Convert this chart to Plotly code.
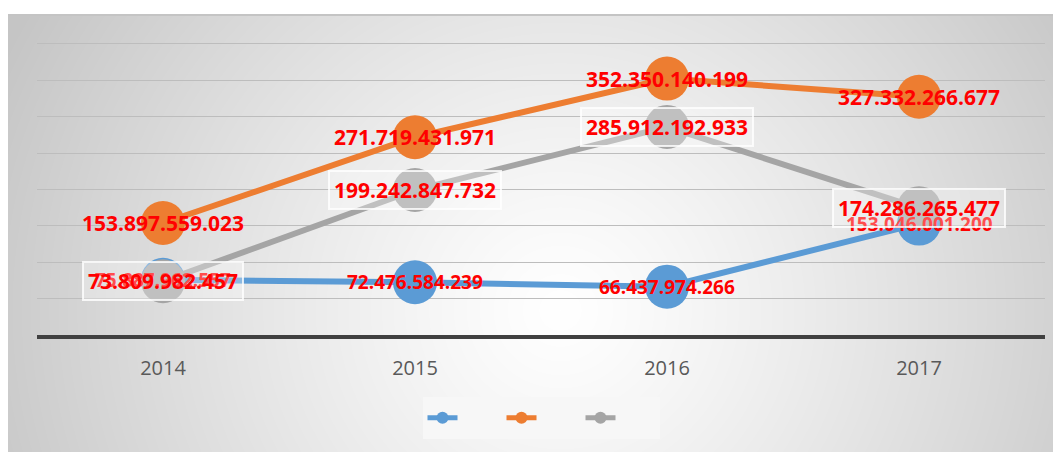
import base64
import struct
import zlib

import numpy as np
import plotly.graph_objects as go

years = ["2014", "2015", "2016", "2017"]
serie_1 = [75887962557, 72476584239, 66437974266, 153046001200]
serie_2 = [153897559023, 271719431971, 352350140199, 327332266677]
serie_3 = [73809982457, 199242847732, 285912192933, 174286265477]

BLUE = "#5B9BD5"
ORANGE = "#ED7D31"
GRAY = "#A5A5A5"

# the page body has an 8px margin, so the figure is shifted by that much
OFF = 8
W, H = 1061 - OFF, 452 - OFF
L, R, T, B = 37 - OFF, 16, 41 - OFF, 117
PW, PH = W - L - R, H - T - B


def dotted(v):
    return f"{v:,}".replace(",", ".")


def gradient_png(w, h, ox, oy):
    # radial grey gradient like the office chart-area fill
    xs = np.arange(w) + ox
    ys = np.arange(h) + oy
    gx, gy = np.meshgrid(xs, ys)
    r2 = ((gx - 560) / 620.0) ** 2 + ((gy - 310) / 600.0) ** 2
    val = 255 - 58 * np.minimum(1.0, r2) ** 0.6
    img = np.clip(val, 0, 255).astype(np.uint8)
    img[0:2, :] = 196
    raw = b"".join(b"\x00" + row.tobytes() for row in img)

    def chunk(tag, data):
        c = struct.pack(">I", len(data)) + tag + data
        return c + struct.pack(">I", zlib.crc32(tag + data) & 0xFFFFFFFF)

    png = b"\x89PNG\r\n\x1a\n"
    png += chunk(b"IHDR", struct.pack(">IIBBBBB", w, h, 8, 0, 0, 0, 0))
    png += chunk(b"IDAT", zlib.compress(raw, 9))
    png += chunk(b"IEND", b"")
    return "data:image/png;base64," + base64.b64encode(png).decode()


# chart box in screen pixels: from (6, 14) to the window edge
bx0, by0 = 6, 14
bg = gradient_png(1061 - bx0, 452 - by0, bx0, by0)

fig = go.Figure()
for vals, col in [(serie_1, BLUE), (serie_2, ORANGE), (serie_3, GRAY)]:
    fig.add_trace(go.Scatter(
        x=years, y=vals, mode="lines+markers", name="",
        line=dict(color=col, width=6),
        marker=dict(color=col, size=44, line=dict(width=0)),
        hoverinfo="skip",
    ))

lab_font = "Open Sans"
# category names look numeric, so annotations use the category index
for i, v in enumerate(serie_1):
    fig.add_annotation(x=i, y=v, xref="x", yref="y", text=dotted(v), showarrow=False,
                       font=dict(family=lab_font, size=19, color="#FF0000", weight="bold"))
for i, v in enumerate(serie_2):
    fig.add_annotation(x=i, y=v, xref="x", yref="y", text=dotted(v), showarrow=False,
                       font=dict(family=lab_font, size=21, color="#FF0000", weight="bold"))
for i, v in enumerate(serie_3):
    fig.add_annotation(x=i, y=v, xref="x", yref="y", text=dotted(v), showarrow=False,
                       font=dict(family=lab_font, size=21, color="#FF0000", weight="bold"),
                       bgcolor="rgba(255,255,255,0.3)", bordercolor="rgba(255,255,255,0.8)",
                       borderwidth=2, borderpad=4)

fig.add_layout_image(
    source=bg, xref="paper", yref="paper",
    x=(bx0 - OFF - L) / PW, y=(H - B - (by0 - OFF)) / PH,
    sizex=(1061 - bx0) / PW, sizey=(452 - by0) / PH,
    xanchor="left", yanchor="top", sizing="stretch", layer="below",
)

fig.update_layout(
    width=W, height=H,
    margin=dict(l=L, r=R, t=T, b=B),
    paper_bgcolor="white",
    plot_bgcolor="rgba(0,0,0,0)",
    showlegend=True,
    legend=dict(
        orientation="h", x=0.5, xanchor="center",
        y=(H - B - (397 - OFF)) / PH, yanchor="top",
        bgcolor="#F7F7F7", itemsizing="constant",
        entrywidth=34, entrywidthmode="pixels",
        font=dict(size=22), itemclick=False,
    ),
    xaxis=dict(
        type="category", range=[-0.5, 3.5],
        showgrid=False, showline=True, linecolor="#404040", linewidth=3.5,
        ticks="", ticklabelstandoff=12,
        tickfont=dict(family="Open Sans", size=20, color="#595959"),
    ),
    yaxis=dict(
        range=[0, 404e9], dtick=50e9, showticklabels=False,
        showgrid=True, gridcolor="#BDBDBD", gridwidth=1.2, zeroline=False,
    ),
)

fig.write_html("out.html")
